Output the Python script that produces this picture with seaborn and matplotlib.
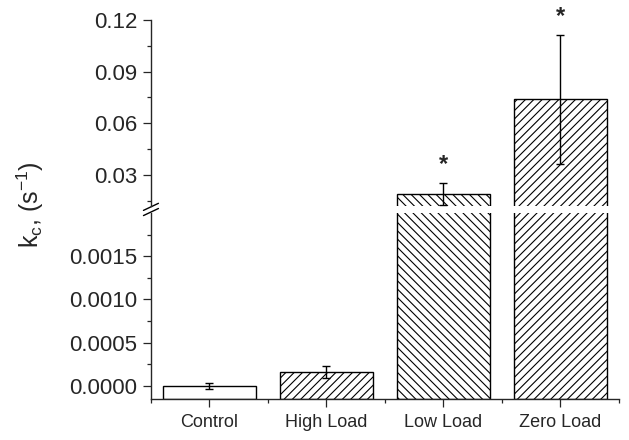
import numpy as np
import matplotlib
matplotlib.use("Agg")
import matplotlib.pyplot as plt
from matplotlib.ticker import FormatStrFormatter, FixedLocator
import seaborn as sns

# ---------- DATA ----------
categories = ["Control", "High Load", "Low Load", "Zero Load"]
kc_values = [0.0, 0.000162, 0.019, 0.074]
kc_errors = [0.00004, 0.00007, 0.0063, 0.0375]
hatches = ["", "////", "\\\\\\\\", "////"]
significant = [False, False, True, True]

# ---------- STYLE ----------
sns.set_style("ticks")
plt.rcParams["font.family"] = ["Liberation Sans", "DejaVu Sans"]
plt.rcParams["mathtext.default"] = "regular"
plt.rcParams["hatch.linewidth"] = 0.8
plt.rcParams["axes.linewidth"] = 1.0

fig = plt.figure(figsize=(6.29, 4.40), dpi=100)
ax_top = fig.add_axes([0.240, 0.532, 0.744, 0.4225])
ax_low = fig.add_axes([0.240, 0.0932, 0.744, 0.4228])

low_min, low_max = -0.00015, 0.002
top_min, top_max = 0.012, 0.12

for ax in (ax_top, ax_low):
    sns.barplot(x=categories, y=kc_values, color="white", saturation=1,
                edgecolor="black", linewidth=1.0, width=0.8, ax=ax)
    for patch, h in zip(ax.patches, hatches):
        patch.set_hatch(h)
    ax.errorbar(range(len(categories)), kc_values, yerr=kc_errors,
                fmt="none", ecolor="black", elinewidth=1.0, capsize=3,
                capthick=1.0)
    ax.set_xlim(-0.5, 3.5)
    ax.set_xlabel("")
    ax.set_ylabel("")
    ax.spines["top"].set_visible(False)
    ax.spines["right"].set_visible(False)
    ax.tick_params(axis="y", which="major", direction="out", length=6,
                   width=0.9, labelsize=16, pad=4)
    ax.tick_params(axis="y", which="minor", direction="out", length=3,
                   width=0.9)

# bars in the lower panel start from the axis bottom (Origin style)
for patch in ax_low.patches:
    top = patch.get_y() + patch.get_height()
    patch.set_y(low_min)
    patch.set_height(top - low_min)

# ---------- UPPER PANEL ----------
ax_top.set_ylim(top_min, top_max)
ax_top.yaxis.set_major_locator(FixedLocator([0.03, 0.06, 0.09, 0.12]))
ax_top.yaxis.set_minor_locator(FixedLocator([0.015, 0.045, 0.075, 0.105]))
ax_top.yaxis.set_major_formatter(FormatStrFormatter("%.2f"))
ax_top.spines["bottom"].set_visible(False)
ax_top.tick_params(axis="x", which="both", bottom=False, labelbottom=False)

for i, (v, e, s) in enumerate(zip(kc_values, kc_errors, significant)):
    if s:
        ax_top.text(i, v + e + 0.0108, "*", ha="center", va="center",
                    fontsize=17, fontweight="bold", clip_on=False)

# ---------- LOWER PANEL ----------
ax_low.set_ylim(low_min, low_max)
ax_low.yaxis.set_major_locator(FixedLocator([0.0, 0.0005, 0.0010, 0.0015]))
ax_low.yaxis.set_minor_locator(FixedLocator([0.00025, 0.00075, 0.00125, 0.00175]))
ax_low.yaxis.set_major_formatter(FormatStrFormatter("%.4f"))
ax_low.xaxis.set_minor_locator(FixedLocator([-0.5, 0.5, 1.5, 2.5, 3.5]))
ax_low.tick_params(axis="x", which="major", direction="out", length=6,
                   width=0.9, labelsize=13, pad=5)
ax_low.tick_params(axis="x", which="minor", direction="out", length=3,
                   width=0.9)

# ---------- AXIS BREAK MARKS ----------
dx, dy = 0.016, 0.019
ax_top.plot([-dx, dx], [-dy - 0.005, dy - 0.005], transform=ax_top.transAxes,
            color="black", lw=1.0, clip_on=False)
ax_low.plot([-dx, dx], [1 - dy + 0.005, 1 + dy + 0.005],
            transform=ax_low.transAxes, color="black", lw=1.0, clip_on=False)

fig.text(0.048, 0.536, "k$_c$, (s$^{-1}$)", rotation=90, ha="center",
         va="center", fontsize=18)

fig.savefig("out.png", dpi=100)
